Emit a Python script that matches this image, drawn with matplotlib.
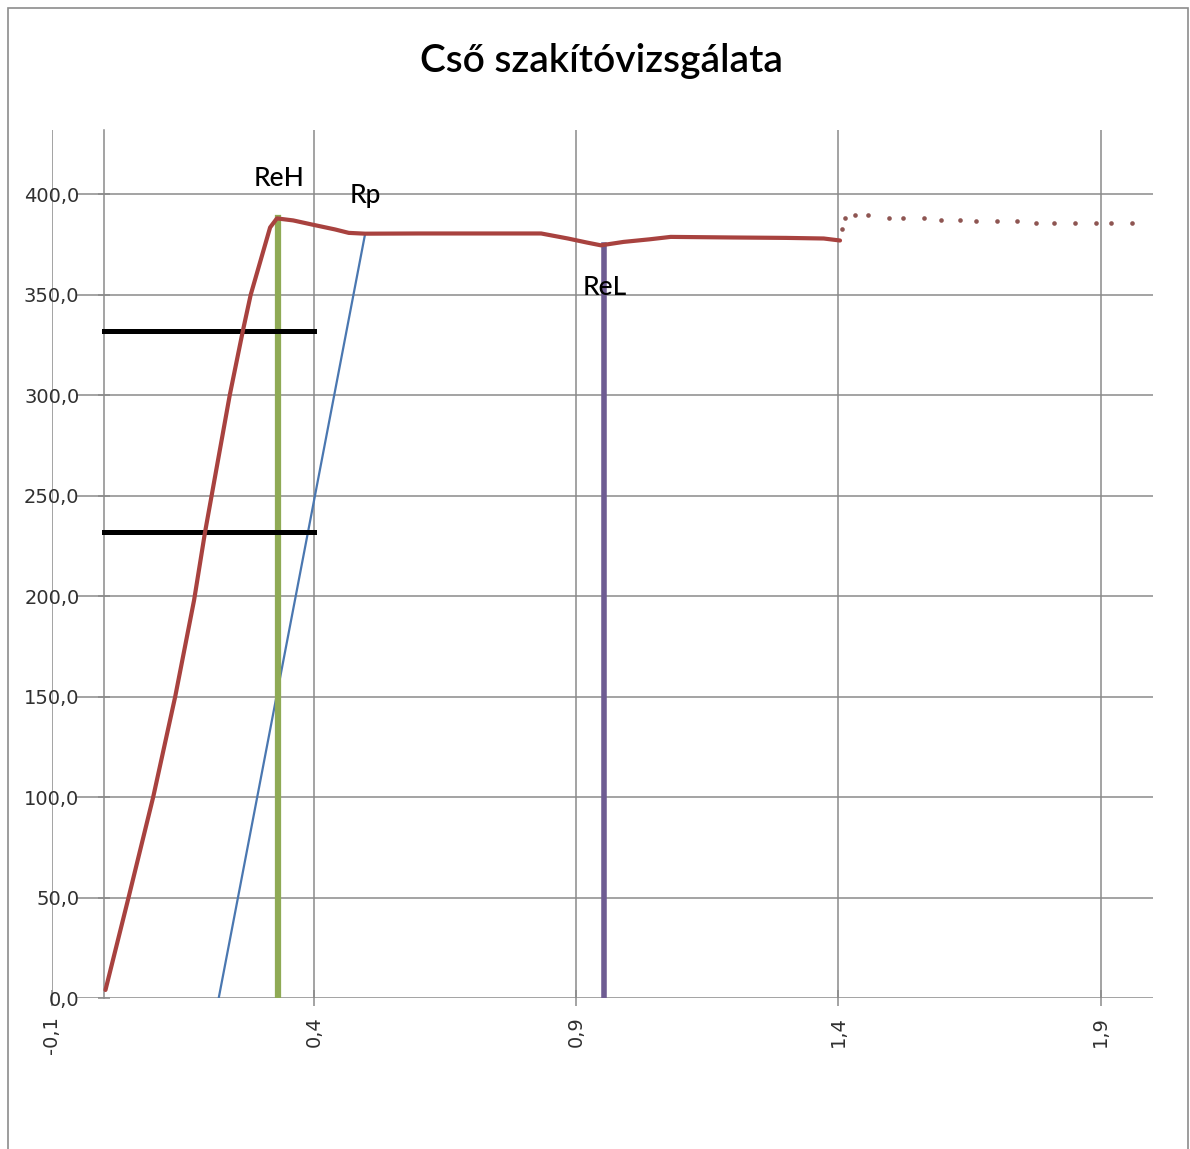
import matplotlib
matplotlib.use("Agg")
import matplotlib.pyplot as plt
from matplotlib.patches import Rectangle

# ---- data ----
title = "Cső szakítóvizsgálata"
curve_x = [0.002, 0.046, 0.093, 0.135, 0.171, 0.192, 0.239, 0.264, 0.279, 0.316,
           0.329, 0.36, 0.395, 0.44, 0.466, 0.497, 0.6, 0.7, 0.833, 0.884,
           0.92, 0.947, 0.99, 1.04, 1.08, 1.2, 1.3, 1.372, 1.403]
curve_y = [4, 50, 100, 150, 198, 232, 300, 332, 350, 383.5,
           388, 387, 385, 382.5, 380.8, 380.4, 380.5, 380.5, 380.5, 378,
           376, 374.6, 376.3, 377.6, 378.8, 378.5, 378.3, 378, 377]
dots_x = [1.406, 1.413, 1.432, 1.456, 1.496, 1.524, 1.564, 1.596, 1.632, 1.662,
          1.703, 1.740, 1.776, 1.812, 1.852, 1.892, 1.920, 1.960]
dots_y = [382.6, 388.4, 389.5, 389.5, 388.4, 388.4, 388.4, 387.4, 387.4, 386.6,
          386.6, 386.6, 385.7, 385.7, 385.7, 385.7, 385.7, 385.7]
offset_x = [0.218, 0.497]
offset_y = [0, 380]
reh_x, reh_y = 0.331, 388
rel_x, rel_y = 0.952, 374.6
level_y = [332, 232]
level_x0, level_x1 = 0.0, 0.4
labels = ["ReH", "Rp", "ReL"]
label_x = [0.333, 0.498, 0.954]
label_y = [408, 399.5, 353.5]
x_ticks = [-0.1, 0.4, 0.9, 1.4, 1.9]
x_ticklabels = ["-0,1", "0,4", "0,9", "1,4", "1,9"]
y_ticks = [0, 50, 100, 150, 200, 250, 300, 350, 400]
y_ticklabels = ["0,0", "50,0", "100,0", "150,0", "200,0", "250,0", "300,0", "350,0", "400,0"]

W, H = 1190, 1149
fig = plt.figure(figsize=(W / 100, H / 100), dpi=100)
fig.patch.set_facecolor("white")
plt.rcParams["font.family"] = "DejaVu Sans"

# outer chart border
fig.patches.append(Rectangle((8 / W, -0.01), (1188 - 8) / W, (H - 8) / H + 0.01,
                             transform=fig.transFigure, fill=False,
                             edgecolor="#8c8c8c", linewidth=1.2))

L, R, B, T = 52, 1153, 998, 130
ax = fig.add_axes([L / W, (H - B) / H, (R - L) / W, (B - T) / H])
ax.set_xlim(-0.1, 2.0)
ax.set_ylim(0, 432)

grid_c = "#8a8a8a"
ax.set_xticks(x_ticks)
ax.set_xticklabels(x_ticklabels, rotation=90)
ax.set_yticks(y_ticks)
ax.set_yticklabels(y_ticklabels)
ax.grid(axis="x", color=grid_c, linewidth=1.1)
frac = (77 - L) / (R - L)
for v in y_ticks:
    ax.axhline(v, xmin=frac, xmax=1, color=grid_c, linewidth=1.1, zorder=0.5)

for s in ["top", "right", "bottom"]:
    ax.spines[s].set_visible(False)
ax.spines["left"].set_position(("data", 0))
ax.spines["left"].set_color(grid_c)
ax.spines["left"].set_linewidth(1.1)
ax.tick_params(axis="y", direction="inout", length=8, width=1.1, color=grid_c, pad=14,
               labelsize=14, labelcolor="#303030")
ax.tick_params(axis="x", direction="inout", length=12, width=1.1, color=grid_c, pad=7,
               labelsize=14, labelcolor="#303030")
for lab in ax.get_xticklabels():
    lab.set_verticalalignment("top")

# marks
ax.plot(offset_x, offset_y, color="#4A77B0", linewidth=1.6, zorder=3)
ax.plot([reh_x, reh_x], [0, reh_y], color="#8FAA55", linewidth=4.5, zorder=3)
ax.plot([rel_x, rel_x], [0, rel_y], color="#6E5C92", linewidth=4.0, zorder=3)
for ly in level_y:
    ax.plot([level_x0, level_x1], [ly, ly], color="black", linewidth=3.6, zorder=4)
ax.plot(curve_x, curve_y, color="#A8423F", linewidth=3.0, zorder=5,
        solid_capstyle="round", solid_joinstyle="round")
ax.scatter(dots_x, dots_y, s=11, color="#8E5552", zorder=5, linewidths=0)

for t, lx, ly in zip(labels, label_x, label_y):
    ax.text(lx, ly, t, ha="center", va="center", fontsize=19, family="Lato",
            fontweight="medium", color="black", zorder=6)

fig.text(601 / W, 1 - 61 / H, title, ha="center", va="center", fontsize=28,
         family="Lato", fontweight="semibold", color="black")

fig.savefig("out.png", dpi=100, facecolor="white")
